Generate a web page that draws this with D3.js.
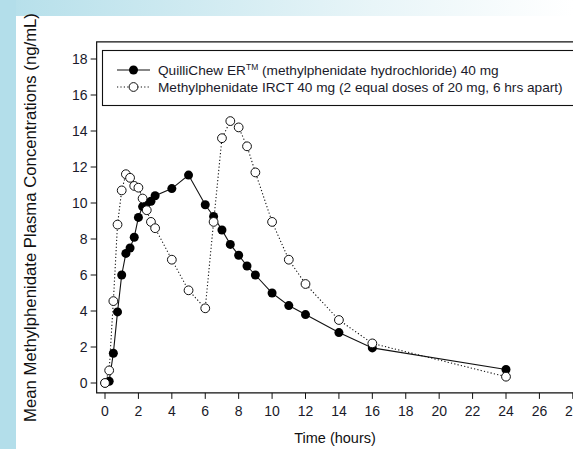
<!DOCTYPE html>
<html><head><meta charset="utf-8">
<script src="https://cdn.jsdelivr.net/npm/d3@7"></script>
<style>body{margin:0;background:#fff;}svg{display:block;font-family:"Liberation Sans",Arial,sans-serif;}</style>
</head><body>
<svg id="c" width="573" height="449"></svg>
<script>
const xTicks = [0,2,4,6,8,10,12,14,16,18,20,22,24,26,28];
const yTicks = [0,2,4,6,8,10,12,14,16,18];
const erTime = [0,0.25,0.5,0.75,1,1.25,1.5,1.75,2,2.25,2.5,2.75,3,4,5,6,6.5,7,7.5,8,8.5,9,10,11,12,14,16,24];
const erConc = [0,0.1,1.65,3.95,6.0,7.2,7.5,8.1,9.2,9.8,10.0,10.1,10.4,10.8,11.55,9.9,9.25,8.5,7.7,7.1,6.5,6.0,5.0,4.3,3.8,2.8,1.95,0.75];
const irTime = [0,0.25,0.5,0.75,1,1.25,1.5,1.75,2,2.25,2.5,2.75,3,4,5,6,6.5,7,7.5,8,8.5,9,10,11,12,14,16,24];
const irConc = [0,0.7,4.55,8.8,10.7,11.6,11.4,10.95,10.85,10.25,9.6,8.95,8.6,6.85,5.15,4.15,8.95,13.6,14.55,14.2,13.15,11.7,8.95,6.85,5.5,3.5,2.2,0.35];
const seriesNames = ["QuilliChew ER", "Methylphenidate IRCT 40 mg (2 equal doses of 20 mg, 6 hrs apart)"];

const svg = d3.select("#c");
const defs = svg.append("defs");
const grad = defs.append("linearGradient").attr("id","tg").attr("x1","0").attr("x2","1");
grad.append("stop").attr("offset","0").attr("stop-color","#b5dfea");
grad.append("stop").attr("offset","0.65").attr("stop-color","#e8f5f8");
grad.append("stop").attr("offset","1").attr("stop-color","#ffffff");
svg.append("rect").attr("x",0).attr("y",0).attr("width",573).attr("height",16).attr("fill","url(#tg)");
svg.append("rect").attr("x",0).attr("y",0).attr("width",16).attr("height",449).attr("fill","#b3deea");

const x = d3.scaleLinear().domain([0,24]).range([105,506]);
const y = d3.scaleLinear().domain([0,18]).range([383,59]);
const fx0 = x(-0.5), fy0 = y(-0.55), fy1 = y(18.95);

const ink = "#111";
svg.append("path").attr("d",`M580,${fy1}H${fx0}V${fy0}H580`).attr("fill","none").attr("stroke",ink).attr("stroke-width",1.2);

const yAxis = svg.append("g");
yTicks.forEach(t=>{
  yAxis.append("line").attr("x1",fx0-6).attr("x2",fx0).attr("y1",y(t)).attr("y2",y(t)).attr("stroke",ink);
  yAxis.append("text").attr("x",fx0-9).attr("y",y(t)).attr("dy","0.36em").attr("text-anchor","end")
    .attr("font-size",14).attr("fill","#1a1a2a").text(t);
});
const xAxis = svg.append("g");
xTicks.forEach(t=>{
  xAxis.append("line").attr("x1",x(t)).attr("x2",x(t)).attr("y1",fy0).attr("y2",fy0+6).attr("stroke",ink);
  xAxis.append("text").attr("x",x(t)).attr("y",fy0+23).attr("text-anchor","middle")
    .attr("font-size",14).attr("fill","#1a1a2a").text(t);
});

svg.append("text").attr("x",335).attr("y",443).attr("text-anchor","middle").attr("font-size",14.5).attr("fill",ink).text("Time (hours)");
const yt = svg.append("text").attr("transform","translate(36,217.5) rotate(-90)").attr("text-anchor","middle")
  .attr("font-size",14).attr("fill",ink).text("Mean Methylphenidate Plasma Concentrations (ng/mL)");
const L = yt.node().getComputedTextLength();
yt.attr("font-size", 14*409/L);

const er = erTime.map((t,i)=>[t,erConc[i]]);
const ir = irTime.map((t,i)=>[t,irConc[i]]);
const line = d3.line().x(d=>x(d[0])).y(d=>y(d[1]));
svg.append("path").attr("d",line(er)).attr("fill","none").attr("stroke",ink).attr("stroke-width",1.1);
svg.append("path").attr("d",line(ir)).attr("fill","none").attr("stroke",ink).attr("stroke-width",1.1).attr("stroke-dasharray","1.2,2.2");
svg.append("g").selectAll("circle").data(er).join("circle").attr("cx",d=>x(d[0])).attr("cy",d=>y(d[1])).attr("r",4.5).attr("fill","#000");
svg.append("g").selectAll("circle").data(ir).join("circle").attr("cx",d=>x(d[0])).attr("cy",d=>y(d[1])).attr("r",4.4).attr("fill","#fff").attr("stroke",ink).attr("stroke-width",1);

const lg = svg.append("g");
lg.append("rect").attr("x",102.5).attr("y",50.5).attr("width",480).attr("height",55).attr("fill","#fff").attr("stroke",ink).attr("stroke-width",1.1);
const ly1 = 70, ly2 = 87;
lg.append("line").attr("x1",117).attr("x2",150).attr("y1",ly1).attr("y2",ly1).attr("stroke",ink).attr("stroke-width",1.1);
lg.append("circle").attr("cx",133.5).attr("cy",ly1).attr("r",4.5).attr("fill","#000");
lg.append("line").attr("x1",117).attr("x2",150).attr("y1",ly2).attr("y2",ly2).attr("stroke",ink).attr("stroke-width",1.1).attr("stroke-dasharray","1.2,2.2");
lg.append("circle").attr("cx",133.5).attr("cy",ly2).attr("r",4.4).attr("fill","#fff").attr("stroke",ink);
const t1 = lg.append("text").attr("x",158).attr("y",ly1+4.5).attr("font-size",13.5).attr("fill","#1a1a2a");
t1.append("tspan").text(seriesNames[0]);
t1.append("tspan").attr("font-size",8.5).attr("dy",-5).text("TM");
t1.append("tspan").attr("dy",5).text(" (methylphenidate hydrochloride) 40 mg");
const t2 = lg.append("text").attr("x",158).attr("y",ly2+4.5).attr("font-size",13.5).attr("fill","#1a1a2a").text(seriesNames[1]);
const L2 = t2.node().getComputedTextLength();
const s = 405/L2;
t2.attr("font-size",13.5*s);
t1.attr("font-size",13.5*s);
</script>
</body></html>
